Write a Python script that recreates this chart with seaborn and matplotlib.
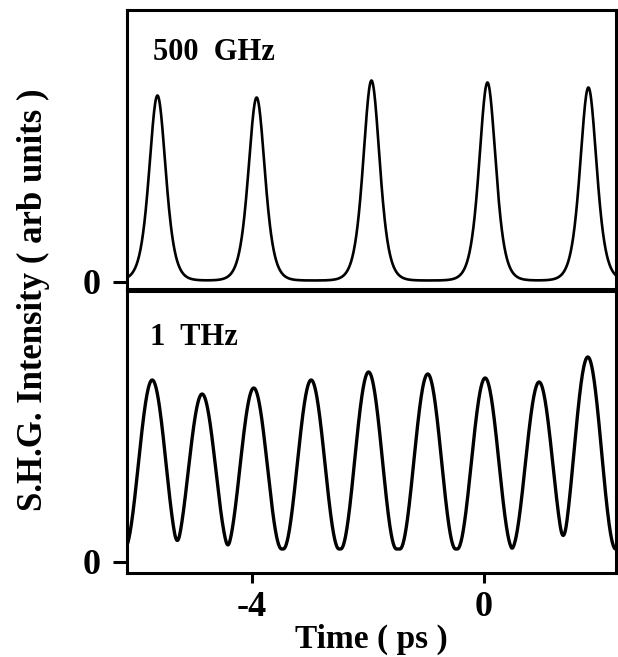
import numpy as np
import pandas as pd
import matplotlib
matplotlib.use("Agg")
import matplotlib.pyplot as plt
import seaborn as sns

# peak positions (ps) and heights (arb)
ghz_centers = [-5.63, -3.92, -1.94, 0.06, 1.80]
ghz_heights = [185, 183, 200, 198, 193]
ghz_tau = 0.19          # sech^2 width
ghz_base = 1.5

thz_centers = [-5.72, -4.86, -3.97, -2.98, -1.99, -0.97, 0.02, 0.95, 1.79]
thz_heights = [182, 168, 174, 182, 190, 188, 184, 180, 205]
thz_halfwidth = 0.48    # raised-cosine half width
thz_base = 13.0

x_ticks = [-4, 0]
x_lim = (-6.155, 2.276)

t = np.linspace(x_lim[0], x_lim[1], 1500)

def sech2_train(t, centers, heights, tau, base):
    y = np.full_like(t, base)
    for c, h in zip(centers, heights):
        y += h / np.cosh((t - c) / tau) ** 2
    return y

def cos2_train(t, centers, heights, a, base):
    y = np.full_like(t, base)
    for c, h in zip(centers, heights):
        u = np.clip((t - c) / a, -1, 1)
        y += (h - base) * np.cos(u * np.pi / 2) ** 2
    return y

df_ghz = pd.DataFrame({'Time': t, 'SHG': sech2_train(t, ghz_centers, ghz_heights, ghz_tau, ghz_base)})
df_thz = pd.DataFrame({'Time': t, 'SHG': cos2_train(t, thz_centers, thz_heights, thz_halfwidth, thz_base)})

sns.set_theme(style="ticks")
plt.rcParams['font.family'] = ['Liberation Serif', 'DejaVu Serif']
plt.rcParams['font.weight'] = 'bold'
plt.rcParams['text.color'] = 'black'
plt.rcParams['axes.labelcolor'] = 'black'
plt.rcParams['xtick.color'] = 'black'
plt.rcParams['ytick.color'] = 'black'

W, H = 618, 657
fig = plt.figure(figsize=(W / 100, H / 100), dpi=100)
ax1 = fig.add_axes([127 / W, (H - 289) / H, (616 - 127) / W, (289 - 10) / H])
ax2 = fig.add_axes([127 / W, (H - 573) / H, (616 - 127) / W, (573 - 291) / H])

sns.lineplot(data=df_ghz, x='Time', y='SHG', ax=ax1, color='black', linewidth=1.9)
sns.lineplot(data=df_thz, x='Time', y='SHG', ax=ax2, color='black', linewidth=2.4)

ax1.set_ylim(-7, 272)
ax2.set_ylim(-11, 271)

for ax in (ax1, ax2):
    ax.set_xlim(*x_lim)
    ax.set_yticks([0])
    ax.set_yticklabels(['0'])
    ax.set_xlabel('')
    ax.set_ylabel('')
    for sp in ax.spines.values():
        sp.set_visible(True)
        sp.set_linewidth(2.2)
        sp.set_color('black')
    ax.tick_params(axis='y', direction='out', length=10, width=2.2, pad=9,
                   labelsize=26, colors='black')

ax1.set_xticks([])
ax2.set_xticks(x_ticks)
ax2.set_xticklabels([str(v) for v in x_ticks])
ax2.tick_params(axis='x', direction='out', length=7, width=2.2, pad=6,
                labelsize=26, colors='black')
ax2.set_xlabel('Time ( ps )', fontsize=24, fontweight='bold', labelpad=0,
               color='black')

ax1.text(0.053, 0.82, '500  GHz', transform=ax1.transAxes, fontsize=22,
         fontweight='bold', va='baseline', color='black')
ax2.text(0.047, 0.81, '1  THz', transform=ax2.transAxes, fontsize=22,
         fontweight='bold', va='baseline', color='black')

fig.text(33 / W, 1 - 300 / H, 'S.H.G. Intensity ( arb units )', rotation=90,
         ha='center', va='center', fontsize=25, fontweight='bold', color='black')

plt.savefig('out.png', dpi=100, facecolor='white')
plt.close()
